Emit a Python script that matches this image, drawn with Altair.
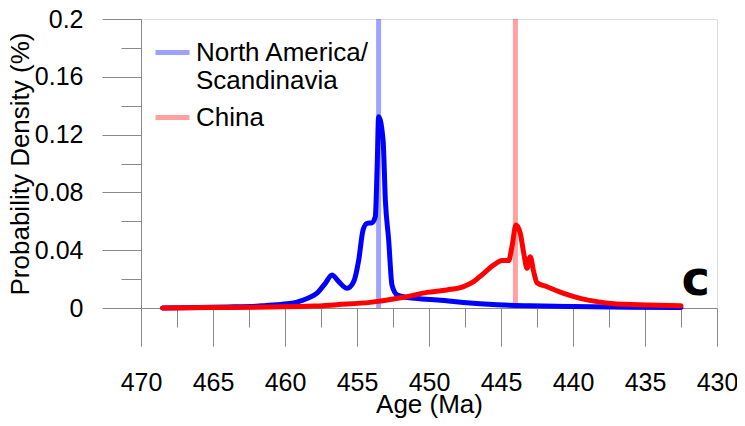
import altair as alt
import pandas as pd

# ---- data ----
regions = ["North America/Scandinavia", "China"]
colors = ["#0000ff", "#ff0000"]

na_age = [468.5, 466.0, 464.0, 462.0, 461.3, 460.3, 459.4, 458.9, 458.3, 457.8, 457.2,
          456.74, 456.27, 455.69, 455.23, 454.88, 454.58, 454.3, 453.96, 453.73, 453.6,
          453.5, 453.19, 453.03, 452.8, 452.57, 452.2, 451.5, 450.5, 449.4, 447.15,
          444.8, 443.0, 440.0, 436.0, 432.5]
na_density = [0.0, 0.0004, 0.0007, 0.0012, 0.0018, 0.0025, 0.0035, 0.0050, 0.0072, 0.0101, 0.0171,
              0.0228, 0.0182, 0.0136, 0.0182, 0.0332, 0.0540, 0.0586, 0.0590, 0.0632, 0.0978,
              0.1324, 0.1163, 0.0747, 0.0470, 0.0159, 0.0090, 0.0072, 0.0063, 0.0055, 0.0035,
              0.0020, 0.0015, 0.0010, 0.0006, 0.0004]

cn_age = [468.5, 465.0, 461.0, 458.0, 456.4, 454.08, 451.76, 450.14, 448.75, 447.6, 446.9,
          446.2, 445.5, 444.93, 444.47, 444.24, 443.96, 443.66, 443.42, 443.19, 442.97,
          442.73, 442.5, 441.8, 440.65, 439.5, 438.33, 437.17, 436.0, 434.86, 432.5]
cn_density = [0.0, 0.0003, 0.0007, 0.0013, 0.0023, 0.0039, 0.0074, 0.0108, 0.0125, 0.0148, 0.0182,
              0.0240, 0.0298, 0.0328, 0.0328, 0.0424, 0.0574, 0.0517, 0.0378, 0.0275, 0.0355,
              0.0251, 0.0175, 0.0147, 0.0101, 0.0067, 0.0044, 0.0030, 0.0025, 0.0021, 0.0016]

peak_ages = [453.5, 444.0]

x_tick_values = [470, 467.5, 465, 462.5, 460, 457.5, 455, 452.5, 450, 447.5, 445,
                 442.5, 440, 437.5, 435, 432.5, 430]
y_tick_values = [0, 0.02, 0.04, 0.06, 0.08, 0.1, 0.12, 0.14, 0.16, 0.18, 0.2]

# ---- tables ----
curves = pd.concat([
    pd.DataFrame({"age": na_age, "density": na_density, "region": regions[0]}),
    pd.DataFrame({"age": cn_age, "density": cn_density, "region": regions[1]}),
], ignore_index=True)
peaks = pd.DataFrame({"age": peak_ages, "region": regions})
panel = pd.DataFrame({"label": ["c"]})

W, H = 576, 289
FONT = "Liberation Sans"

x_scale = alt.Scale(domain=[470, 430], nice=False, zero=False)
y_scale = alt.Scale(domain=[0, 0.2], nice=False)
color_scale = alt.Scale(domain=regions, range=colors)

legend = alt.Legend(
    title=None, orient="none", legendX=12, legendY=14,
    symbolType="stroke", symbolStrokeWidth=5, symbolSize=1156,
    symbolOpacity=0.37, labelFontSize=26, labelFont=FONT, labelColor="black",
    labelOffset=4, rowPadding=4, labelLimit=400,
    labelExpr="datum.label == 'North America/Scandinavia' ? ['North America/', 'Scandinavia'] : datum.label",
)

x_axis = alt.Axis(
    values=x_tick_values, title="Age (Ma)", orient="bottom",
    tickSize={"condition": {"test": "datum.value % 5 == 0", "value": 38}, "value": 19},
    labelExpr="datum.value % 5 == 0 ? datum.label : ''",
    format="d", labelPadding=24, labelFontSize=25, labelFont=FONT,
    titleFontSize=26, titleFont=FONT, titleFontWeight="normal",
    titleBaseline="alphabetic", titleY=104, grid=False, labelFlush=False,
    labelOverlap=False,
)
y_axis = alt.Axis(
    values=y_tick_values, title="Probability Density (%)", orient="left",
    tickSize={"condition": {"test": "round(datum.value*100) % 4 == 0", "value": 39}, "value": 20},
    labelExpr="round(datum.value*100) % 4 == 0 ? format(datum.value, '~g') : ''",
    labelPadding=19, labelFontSize=25, labelFont=FONT,
    titleFontSize=26, titleFont=FONT, titleFontWeight="normal",
    titleBaseline="alphabetic", titleX=-113, grid=False, labelFlush=False,
    labelOverlap=False,
)

rules = alt.Chart(peaks).mark_rule(strokeWidth=5, opacity=0.37).encode(
    x=alt.X("age:Q", scale=x_scale, axis=x_axis),
    color=alt.Color("region:N", scale=color_scale, legend=legend),
)

na_line = alt.Chart(curves).transform_filter(
    alt.datum.region == regions[0]
).mark_line(strokeWidth=5, strokeJoin="round", strokeCap="round",
            interpolate="monotone").encode(
    x=alt.X("age:Q", scale=x_scale, axis=x_axis),
    y=alt.Y("density:Q", scale=y_scale, axis=y_axis),
    color=alt.Color("region:N", scale=color_scale, legend=legend),
)

cn_line = alt.Chart(curves).transform_filter(
    alt.datum.region == regions[1]
).mark_line(strokeWidth=5, strokeJoin="round", strokeCap="round",
            interpolate="monotone").encode(
    x=alt.X("age:Q", scale=x_scale, axis=x_axis),
    y=alt.Y("density:Q", scale=y_scale, axis=y_axis),
    color=alt.Color("region:N", scale=color_scale, legend=legend),
)

panel_label = alt.Chart(panel).mark_text(
    font="DejaVu Sans", fontWeight="bold", fontSize=48, align="right",
    baseline="alphabetic", color="black",
).encode(
    text="label:N", x=alt.value(W - 7), y=alt.value(H - 13),
)

chart = alt.layer(rules, na_line, cn_line, panel_label).properties(
    width=W, height=H,
    autosize=alt.AutoSizeParams(type="none"),
    padding={"left": 133, "top": 11, "right": 20, "bottom": 110},
).configure_view(
    stroke="black", strokeWidth=2,
).configure_axis(
    domainColor="black", domainWidth=2, tickColor="black", tickWidth=2,
    labelColor="black", titleColor="black",
).configure(background="white", font=FONT)

chart.save("out.html", embed_options={"renderer": "svg", "actions": False})
